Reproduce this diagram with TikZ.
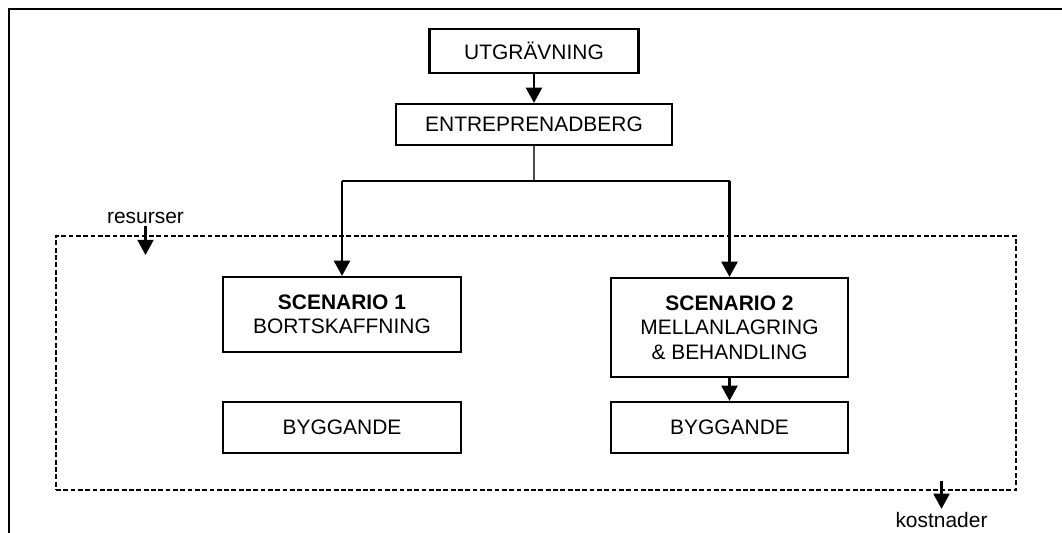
\documentclass[tikz,border=0pt]{standalone}
\usepackage{fontspec}
\setmainfont{Liberation Sans}
\usetikzlibrary{arrows.meta}

\begin{document}
\begin{tikzpicture}[
boxnode/.style={rectangle, draw=black, line width=1.6pt, inner sep=0pt, align=center, font=\fontsize{14.9}{17.4}\selectfont},
textnode/.style={inner sep=2pt, font=\fontsize{14.9}{17.4}\selectfont},
arrowline/.style={line width=1.6pt, -{Triangle[width=4mm,length=3.8mm]}},
]
    \useasboundingbox (0,0) rectangle (26.55,-13.3);
    \draw [line width=2.1pt] (0.225,-13.6) |- (26.8,-0.225);

    % area for the two scenarios
    \node [draw, line width=1.6pt, dash pattern=on 3.4pt off 1.8pt, minimum width=24cm, minimum height=6.35cm] (ram) at (13.4,-9.075) {};

    \node [boxnode, minimum width=5.225cm, minimum height=1.1cm] (utg) at (13.35,-1.275) {UTGRÄVNING};
    \node [boxnode, minimum width=6.9cm, minimum height=1.025cm] (ent) at (13.35,-3.1125) {ENTREPRENADBERG};

    \node [boxnode, minimum width=5.95cm, minimum height=1.875cm] (sc1) at (8.55,-7.8625) {\textbf{SCENARIO 1}\\BORTSKAFFNING};
    \node [boxnode, minimum width=5.925cm, minimum height=2.475cm] (sc2) at (18.2375,-8.1875) {\textbf{SCENARIO 2}\\MELLANLAGRING\\\& BEHANDLING};

    \node [boxnode, minimum width=5.95cm, minimum height=1.275cm] (bygg1) at (8.55,-10.6875) {BYGGANDE};
    \node [boxnode, minimum width=5.925cm, minimum height=1.275cm] (bygg2) at (18.2375,-10.6875) {BYGGANDE};

    \node [textnode] (resurser) at (3.6375,-5.4375) {resurser};
    \node [textnode] (kostnader) at (23.5375,-12.99) {kostnader};
    \coordinate (resin) at (3.6375,-6.375);
    \coordinate (kostut) at (23.5375,-12.025);
    \coordinate (split) at (13.35,-4.525);

    \draw [arrowline] (utg) -- (ent);
    \draw [line width=1pt, black!70] (ent.south) -- (split);
    \draw [line width=1pt] (sc1.north |- split) -- (sc2.north |- split);
    \draw [arrowline] (sc1.north |- split) -- (sc1.north);
    \draw [arrowline] (sc2.north |- split) -- (sc2.north);
    \draw [arrowline] (sc2) -- (bygg2);

    \draw [arrowline] (resurser) -- (resin);
    \draw [arrowline] (kostut) -- (kostnader);

\end{tikzpicture}
\end{document}
